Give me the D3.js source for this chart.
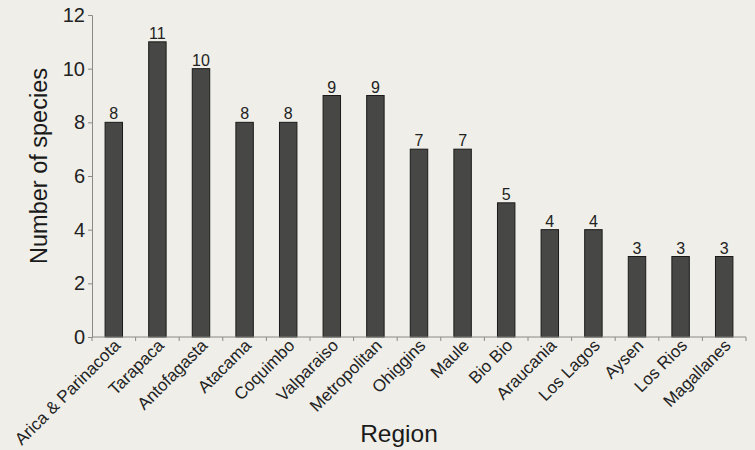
<!DOCTYPE html>
<html><head><meta charset="utf-8">
<script src="https://cdn.jsdelivr.net/npm/d3@7"></script>
<style>html,body{margin:0;padding:0;background:#efeee8;}svg{display:block;}</style>
</head><body>
<script>
const regions = ["Arica & Parinacota","Tarapaca","Antofagasta","Atacama","Coquimbo","Valparaiso","Metropolitan","Ohiggins","Maule","Bio Bio","Araucania","Los Lagos","Aysen","Los Rios","Magallanes"];
const species = [8,11,10,8,8,9,9,7,7,5,4,4,3,3,3];
const yTicks = [0,2,4,6,8,10,12];

const W = 755, H = 450;
const m = {left: 92, right: 9, top: 15, bottom: 113};
const FONT = "'Liberation Sans', Arial, sans-serif";
const svg = d3.select("body").append("svg").attr("width", W).attr("height", H)
  .style("font-family", FONT);
svg.append("rect").attr("width", W).attr("height", H).attr("fill", "#efeee8");

const x = d3.scaleBand().domain(regions).range([m.left, W - m.right]).paddingInner(0.6).paddingOuter(0.3);
const y = d3.scaleLinear().domain([0, 12]).range([H - m.bottom, m.top]);

const axisColor = "#8a8a86";

// bars
svg.append("g").selectAll("rect").data(regions).join("rect")
  .attr("x", d => x(d)).attr("y", (d,i) => y(species[i]))
  .attr("width", x.bandwidth()).attr("height", (d,i) => y(0) - y(species[i]))
  .attr("fill", "#474745").attr("stroke", "#1a1a1a").attr("stroke-width", 1);

// value labels
svg.append("g").selectAll("text").data(regions).join("text")
  .attr("x", d => x(d) + x.bandwidth()/2).attr("y", (d,i) => y(species[i]) - 3)
  .attr("text-anchor", "middle").attr("font-size", 16).attr("fill", "#222")
  .text((d,i) => species[i]);

// y axis
const ya = svg.append("g").attr("transform", `translate(${m.left},0)`)
  .call(d3.axisLeft(y).tickValues(yTicks).tickSize(4).tickPadding(3));
ya.selectAll("path,line").attr("stroke", axisColor);
ya.selectAll("text").attr("font-size", 20).attr("fill", "#222").attr("font-family", FONT);

// x axis: line + ticks at band boundaries
const xg = svg.append("g").attr("transform", `translate(0,${y(0)})`);
xg.append("line").attr("x1", m.left).attr("x2", W - m.right).attr("stroke", axisColor);
const bounds = d3.range(regions.length + 1).map(i => m.left + i * x.step());
xg.selectAll("line.t").data(bounds).join("line").attr("class","t")
  .attr("x1", d => d).attr("x2", d => d).attr("y1", 0).attr("y2", 4).attr("stroke", axisColor);
xg.selectAll("text").data(regions).join("text")
  .attr("transform", d => `translate(${x(d) + x.bandwidth()/2 - 1},${1}) rotate(-45)`)
  .attr("text-anchor", "end").attr("dy", "0.71em").attr("font-size", 17).attr("fill", "#222")
  .text(d => d);

// titles
svg.append("text").attr("transform", `translate(47,166) rotate(-90)`)
  .attr("text-anchor", "middle").attr("font-size", 23.5).attr("fill", "#1a1a1a").text("Number of species");
svg.append("text").attr("x", 399).attr("y", 442)
  .attr("text-anchor", "middle").attr("font-size", 24.5).attr("fill", "#1a1a1a").text("Region");
</script>
</body></html>
